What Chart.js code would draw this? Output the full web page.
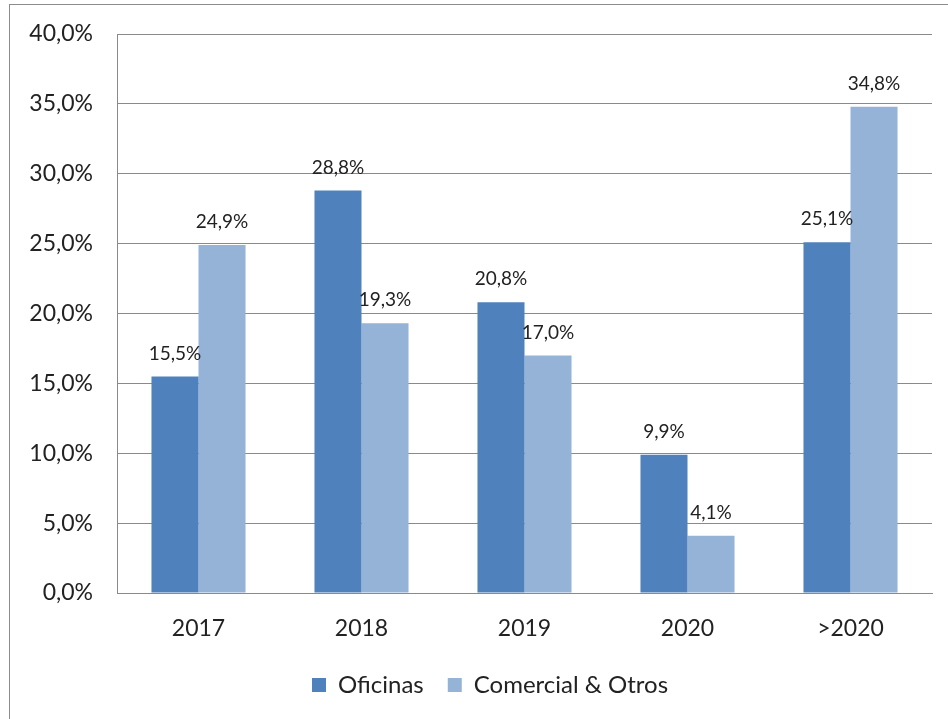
<!DOCTYPE html>
<html>
<head>
<meta charset="utf-8">
<script src="https://cdn.jsdelivr.net/npm/chart.js@4.4.0/dist/chart.umd.min.js"></script>
<style>
  html, body { margin: 0; padding: 0; background: #fff; }
  canvas { display: block; }
</style>
</head>
<body>
<canvas id="chart" width="948" height="719"></canvas>
<script>
const categories = ['2017', '2018', '2019', '2020', '>2020']
const oficinas = [15.5, 28.8, 20.8, 9.9, 25.1]
const comercial = [24.9, 19.3, 17.0, 4.1, 34.8]
const seriesNames = ['Oficinas', 'Comercial & Otros']

const fontFamily = 'Lato, "Open Sans", sans-serif'
const textColor = '#222222'
const gridColor = '#8a8a8a'

function pct (v) {
  return v.toFixed(1).replace('.', ',') + '%'
}

// outer frame around the chart
const framePlugin = {
  id: 'frame',
  beforeDraw (chart) {
    const ctx = chart.ctx
    ctx.save()
    ctx.fillStyle = '#fff'
    ctx.fillRect(0, 0, chart.width, chart.height)
    ctx.strokeStyle = '#8c8c8c'
    ctx.lineWidth = 1
    ctx.strokeRect(9.5, 4.5, 2000, 2000)
    ctx.restore()
  }
}

// nudge the legend a bit to the right, like the original
const legendShift = {
  id: 'legendShift',
  afterLayout (chart) {
    chart.legend.left += 24
    chart.legend.right += 24
  }
}

// value labels above the bars
const labelPlugin = {
  id: 'barLabels',
  afterDatasetsDraw (chart) {
    const ctx = chart.ctx
    ctx.save()
    ctx.font = '19px ' + fontFamily
    ctx.fillStyle = textColor
    ctx.textAlign = 'center'
    ctx.textBaseline = 'middle'
    chart.data.datasets.forEach((ds, i) => {
      const meta = chart.getDatasetMeta(i)
      meta.data.forEach((bar, j) => {
        ctx.fillText(pct(ds.data[j]), bar.x, bar.y - 23)
      })
    })
    ctx.restore()
  }
}

new Chart(document.getElementById('chart'), {
  type: 'bar',
  data: {
    labels: categories,
    datasets: [
      {
        label: seriesNames[0],
        data: oficinas,
        backgroundColor: '#4f81bd',
        borderWidth: 0,
        categoryPercentage: 0.577,
        barPercentage: 1
      },
      {
        label: seriesNames[1],
        data: comercial,
        backgroundColor: '#95b3d7',
        borderWidth: 0,
        categoryPercentage: 0.577,
        barPercentage: 1
      }
    ]
  },
  options: {
    responsive: false,
    animation: false,
    devicePixelRatio: 1,
    layout: {
      padding: { top: 34, right: 16, bottom: 12, left: 0 }
    },
    scales: {
      x: {
        grid: { display: false, drawTicks: false },
        border: { display: true, color: gridColor },
        ticks: {
          color: textColor,
          font: { family: fontFamily, size: 23 },
          padding: 22
        },
        afterFit (scale) { scale.height = 56 }
      },
      y: {
        min: 0,
        max: 40,
        grid: { color: gridColor, drawTicks: false },
        border: { display: true, color: gridColor },
        ticks: {
          stepSize: 5,
          color: textColor,
          font: { family: fontFamily, size: 23 },
          padding: 24,
          callback: (v) => pct(v)
        },
        afterFit (scale) {
          scale.width = 117
          scale.paddingTop = 0
          scale.paddingBottom = 0
        }
      }
    },
    plugins: {
      legend: {
        position: 'bottom',
        labels: {
          color: textColor,
          font: { family: fontFamily, size: 24 },
          boxWidth: 14,
          boxHeight: 14,
          padding: 24
        }
      },
      tooltip: { enabled: false }
    }
  },
  plugins: [framePlugin, legendShift, labelPlugin]
})
</script>
</body>
</html>
